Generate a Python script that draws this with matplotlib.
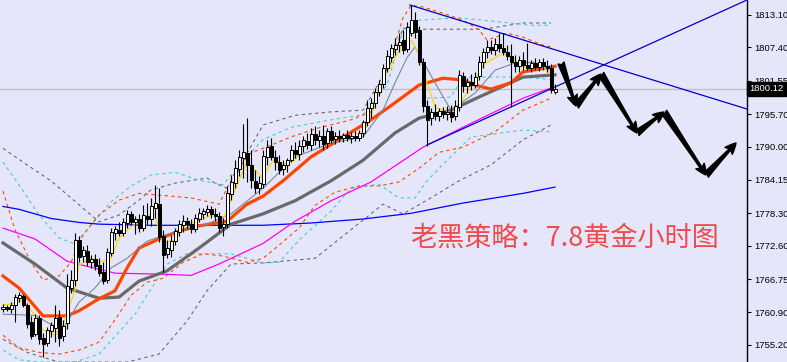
import matplotlib
matplotlib.use("Agg")
import matplotlib.pyplot as plt
import numpy as np

# hourly gold candles (price)
opens = [1761.5, 1761.8, 1761.5, 1762.2, 1763.4, 1763.8, 1762.2, 1759.2, 1757.1, 1759.9,
         1756.4, 1755.5, 1757.6, 1758.1, 1760.1, 1756.7, 1759.0, 1765.2, 1766.6, 1773.6,
         1770.8, 1771.7, 1769.7, 1770.2, 1769.2, 1768.0, 1766.6, 1771.3, 1774.8, 1775.4,
         1774.8, 1776.6, 1778.1, 1776.7, 1777.3, 1775.7, 1777.8, 1777.3, 1779.2, 1779.9,
         1774.3, 1771.1, 1771.8, 1773.4, 1775.0, 1776.2, 1776.9, 1776.4, 1775.5, 1777.3,
         1778.1, 1778.5, 1779.0, 1778.1, 1777.8, 1775.9, 1776.4, 1781.7, 1783.6, 1786.0,
         1788.0, 1788.9, 1786.7, 1784.0, 1782.7, 1783.4, 1788.2, 1790.1, 1788.2, 1787.3,
         1786.0, 1786.7, 1787.6, 1789.4, 1788.7, 1790.1, 1791.0, 1790.3, 1792.2, 1791.1,
         1791.8, 1790.6, 1792.7, 1791.3, 1791.8, 1791.5, 1792.0, 1791.5, 1791.8, 1791.5,
         1792.4, 1794.3, 1796.8, 1797.6, 1799.6, 1801.0, 1803.8, 1805.7, 1807.1, 1807.8,
         1808.7, 1807.1, 1809.9, 1812.2, 1810.5, 1804.8, 1797.1, 1795.0, 1796.1, 1795.4,
         1796.2, 1795.7, 1796.1, 1795.4, 1796.9, 1802.4, 1800.6, 1801.3, 1800.8, 1802.4,
         1804.8, 1806.6, 1807.5, 1807.0, 1808.0, 1807.3, 1806.6, 1805.9, 1804.8, 1804.1,
         1805.2, 1804.3, 1803.8, 1804.7, 1803.9, 1804.8, 1804.1, 1803.8, 1799.6]
highs = [1762.3, 1762.2, 1762.7, 1764.1, 1764.5, 1764.1, 1762.5, 1760.2, 1760.6, 1760.4,
         1757.3, 1758.3, 1759.2, 1762.2, 1761.3, 1759.5, 1767.6, 1768.3, 1774.8, 1774.3,
         1772.5, 1772.7, 1771.0, 1771.1, 1770.4, 1769.7, 1772.2, 1775.7, 1776.0, 1776.7,
         1777.4, 1778.9, 1778.7, 1777.8, 1778.1, 1779.7, 1780.1, 1781.0, 1783.3, 1782.7,
         1775.4, 1773.6, 1774.5, 1775.7, 1777.1, 1778.0, 1777.6, 1777.3, 1778.1, 1779.2,
         1779.2, 1779.7, 1779.5, 1779.2, 1778.5, 1777.4, 1783.1, 1785.0, 1787.6, 1789.4,
         1793.9, 1795.0, 1789.4, 1785.9, 1784.8, 1789.4, 1791.1, 1791.5, 1789.4, 1788.5,
         1787.6, 1788.0, 1790.3, 1790.8, 1791.1, 1791.8, 1792.4, 1793.2, 1793.6, 1792.9,
         1793.8, 1793.2, 1793.6, 1792.5, 1792.9, 1792.4, 1792.9, 1792.5, 1792.7, 1792.9,
         1794.6, 1798.2, 1798.5, 1800.3, 1801.7, 1804.5, 1807.0, 1808.0, 1809.1, 1809.9,
         1810.5, 1811.9, 1814.8, 1813.6, 1811.2, 1805.6, 1798.2, 1796.8, 1797.5, 1796.8,
         1796.9, 1797.1, 1797.3, 1798.2, 1803.4, 1803.1, 1802.0, 1802.7, 1803.1, 1805.9,
         1807.3, 1808.7, 1808.7, 1809.1, 1809.9, 1809.9, 1807.8, 1808.0, 1806.1, 1805.9,
         1806.6, 1808.2, 1805.2, 1805.6, 1805.4, 1805.6, 1805.2, 1804.5, 1801.0]
lows = [1760.9, 1761.1, 1760.8, 1759.2, 1762.7, 1761.8, 1758.1, 1756.2, 1756.7, 1755.3,
        1753.1, 1755.0, 1756.6, 1755.7, 1755.0, 1755.9, 1758.0, 1764.3, 1765.5, 1769.7,
        1769.7, 1769.0, 1768.7, 1768.3, 1767.3, 1765.9, 1766.0, 1770.8, 1773.6, 1774.3,
        1774.3, 1775.7, 1776.2, 1774.6, 1775.0, 1775.2, 1776.4, 1776.0, 1777.4, 1773.2,
        1768.0, 1770.4, 1770.6, 1772.7, 1774.3, 1775.0, 1775.5, 1774.8, 1775.0, 1776.7,
        1777.3, 1777.8, 1777.4, 1776.9, 1775.0, 1774.3, 1775.7, 1780.6, 1782.7, 1784.8,
        1784.5, 1783.8, 1782.7, 1781.8, 1781.7, 1782.7, 1786.7, 1787.6, 1785.9, 1785.2,
        1785.0, 1785.5, 1787.3, 1788.0, 1787.6, 1789.0, 1789.6, 1789.4, 1790.3, 1789.9,
        1789.4, 1789.7, 1790.6, 1790.4, 1790.8, 1790.8, 1791.0, 1790.6, 1791.0, 1791.0,
        1791.7, 1793.6, 1795.0, 1796.8, 1798.9, 1800.3, 1803.1, 1804.8, 1806.1, 1806.6,
        1806.3, 1806.6, 1809.4, 1809.1, 1804.3, 1796.1, 1790.1, 1793.8, 1794.6, 1794.5,
        1795.0, 1794.6, 1794.3, 1794.6, 1796.2, 1799.6, 1799.4, 1799.9, 1800.3, 1801.7,
        1803.8, 1805.6, 1806.3, 1806.1, 1806.6, 1806.1, 1805.2, 1796.9, 1803.1, 1803.1,
        1803.4, 1803.4, 1803.1, 1803.4, 1803.3, 1803.4, 1803.1, 1799.4, 1799.2]
closes = [1761.8, 1761.5, 1762.2, 1763.6, 1763.9, 1762.2, 1758.8, 1756.7, 1759.9, 1756.2,
          1755.3, 1757.8, 1758.7, 1759.9, 1756.4, 1758.5, 1765.5, 1766.6, 1773.6, 1770.6,
          1771.8, 1769.7, 1770.2, 1769.0, 1767.8, 1766.4, 1771.5, 1775.0, 1775.5, 1774.8,
          1776.7, 1778.1, 1776.7, 1777.3, 1775.7, 1778.0, 1777.3, 1779.5, 1780.1, 1774.1,
          1771.0, 1772.2, 1773.4, 1775.2, 1776.4, 1776.9, 1776.4, 1775.5, 1777.4, 1778.3,
          1778.7, 1779.0, 1778.1, 1777.8, 1775.7, 1776.4, 1781.8, 1783.8, 1786.2, 1788.2,
          1789.0, 1786.7, 1784.1, 1782.7, 1783.6, 1788.3, 1789.9, 1788.2, 1787.3, 1785.9,
          1786.7, 1787.6, 1789.4, 1788.7, 1790.1, 1791.1, 1790.3, 1792.2, 1791.1, 1791.8,
          1790.4, 1792.7, 1791.1, 1791.8, 1791.5, 1792.0, 1791.5, 1791.8, 1791.5, 1792.4,
          1794.3, 1796.8, 1797.6, 1799.6, 1801.0, 1803.8, 1805.9, 1807.3, 1807.8, 1808.4,
          1807.0, 1811.0, 1812.2, 1810.1, 1804.8, 1797.1, 1794.6, 1796.1, 1795.4, 1796.2,
          1795.7, 1796.1, 1795.2, 1797.1, 1802.6, 1800.6, 1801.3, 1800.8, 1802.2, 1804.8,
          1806.6, 1807.5, 1807.0, 1808.0, 1807.3, 1806.6, 1805.9, 1804.8, 1804.1, 1805.2,
          1804.3, 1803.8, 1804.7, 1803.9, 1804.8, 1804.1, 1803.8, 1799.9, 1800.12]

# indicator lines (bar index, price)
ma_fast_x = [0, 3, 5, 8, 10, 13, 15, 18, 19, 22, 24, 27, 29, 32, 34, 37, 38, 39, 40, 43, 45, 49,
             53, 55, 57, 59, 61, 63, 65, 66, 68, 70, 73, 75, 78, 83, 89, 91, 93, 95, 98, 100,
             102, 104, 106, 108, 112, 113, 116, 120, 122, 125, 128, 130, 135, 137]
ma_fast_y = [1762.2, 1762.5, 1763.1, 1760.4, 1757.8, 1756.9, 1758.7, 1764.8, 1769.2, 1770.4,
             1769.7, 1770.4, 1773.9, 1776.0, 1776.7, 1778.2, 1778.0, 1775.4, 1773.1, 1773.6,
             1776.0, 1777.1, 1778.2, 1777.1, 1780.6, 1784.1, 1787.3, 1785.9, 1784.5, 1785.9,
             1788.0, 1786.8, 1787.6, 1790.3, 1791.5, 1791.5, 1791.7, 1793.8, 1797.3, 1801.7,
             1805.6, 1807.8, 1808.7, 1806.4, 1801.2, 1796.9, 1795.9, 1796.4, 1799.4, 1804.3,
             1805.2, 1806.4, 1805.2, 1804.1, 1804.1, 1802.6]
ma_slow_x = [0, 8, 12, 15, 19, 23, 27, 31, 36, 41, 46, 51, 57, 65, 73, 82, 90, 95, 98, 101,
             103, 108, 112, 118, 123, 128, 133, 137]
ma_slow_y = [1760.6, 1760.4, 1758.8, 1758.0, 1762.7, 1765.2, 1768.7, 1770.4, 1773.4, 1774.6,
             1775.7, 1776.4, 1778.2, 1782.7, 1788.2, 1790.6, 1791.7, 1796.4, 1801.2, 1805.6,
             1807.5, 1801.2, 1796.4, 1799.4, 1803.4, 1804.7, 1804.8, 1803.4]
ma_red_x = [0, 4, 10, 16, 19, 24, 28, 31, 34, 39, 44, 49, 56, 61, 65, 70, 77, 84, 92, 98,
            104, 110, 115, 118, 122, 127, 130, 138]
ma_red_y = [1767.3, 1765.2, 1760.3, 1760.3, 1761.2, 1763.3, 1764.7, 1768.7, 1772.2, 1773.8,
            1775.2, 1776.1, 1776.9, 1779.9, 1781.3, 1784.0, 1788.2, 1791.2, 1794.7, 1797.7,
            1800.8, 1802.0, 1801.7, 1800.8, 1800.1, 1801.2, 1803.1, 1804.1]
ma_grey_x = [0, 8, 16, 24, 29, 34, 41, 49, 57, 65, 73, 82, 90, 98, 104, 112, 119, 130, 138]
ma_grey_y = [1773.1, 1769.4, 1765.2, 1763.4, 1763.6, 1766.4, 1768.2, 1772.2, 1776.4, 1778.2,
             1780.5, 1784.0, 1787.6, 1792.4, 1795.0, 1796.4, 1798.7, 1802.2, 1802.6]
ma_pink_x = [0, 8, 16, 21, 28, 41, 47, 54, 65, 73, 82, 92, 105, 115, 130, 137]
ma_pink_y = [1775.7, 1773.8, 1769.9, 1769.0, 1767.8, 1767.6, 1767.4, 1769.4, 1773.0, 1776.9,
             1780.5, 1783.8, 1789.9, 1793.4, 1798.5, 1800.3]
ma_blue_x = [0, 4, 12, 19, 24, 37, 49, 65, 77, 90, 102, 115, 130, 138]
ma_blue_y = [1779.5, 1779.0, 1777.4, 1776.7, 1776.4, 1776.2, 1776.2, 1776.2, 1776.6, 1777.3,
             1778.3, 1780.1, 1781.8, 1782.9]

# bollinger-style envelopes (dashed)
bb_red_up_x = [0, 3, 7, 10, 14, 17, 20, 24, 29, 34, 39, 47, 54, 58, 62, 65, 72, 79, 87, 92,
               96, 100, 102, 105, 110, 115, 119, 121, 126, 130, 135, 137]
bb_red_up_y = [1782.2, 1775.4, 1769.7, 1766.6, 1767.3, 1769.7, 1774.5, 1778.0, 1780.6, 1781.8,
               1781.5, 1781.0, 1779.9, 1785.5, 1788.9, 1789.7, 1791.7, 1793.3, 1794.7, 1796.1,
               1803.4, 1812.6, 1814.8, 1814.5, 1813.4, 1812.2, 1810.5, 1808.7, 1809.9, 1809.2,
               1807.8, 1807.5]
bb_red_lo_x = [0, 4, 9, 14, 19, 24, 28, 32, 36, 40, 45, 50, 55, 61, 65, 69, 74, 78, 83, 89,
               94, 99, 104, 109, 115, 123, 130, 137]
bb_red_lo_y = [1756.9, 1754.7, 1753.9, 1753.6, 1754.3, 1755.7, 1759.6, 1763.9, 1766.2, 1766.9,
               1769.7, 1771.2, 1770.8, 1769.7, 1770.4, 1772.7, 1775.7, 1779.7, 1782.0, 1783.1,
               1783.1, 1783.8, 1786.2, 1789.0, 1789.9, 1792.6, 1796.4, 1798.5]
bb_cyan_up_x = [0, 4, 9, 14, 18, 22, 27, 32, 37, 43, 49, 55, 59, 65, 72, 82, 90, 96, 100, 104,
                114, 124, 132, 137]
bb_cyan_up_y = [1787.3, 1783.3, 1778.0, 1774.0, 1772.9, 1776.2, 1780.3, 1783.1, 1785.0, 1785.5,
                1784.1, 1783.3, 1786.8, 1791.2, 1793.4, 1794.7, 1795.6, 1800.8, 1810.5, 1812.2,
                1812.6, 1811.9, 1811.3, 1811.3]
bb_cyan_lo_x = [0, 4, 9, 18, 24, 33, 41, 46, 52, 57, 65, 69, 74, 82, 87, 94, 99, 103, 106,
                111, 117, 130, 137]
bb_cyan_lo_y = [1754.3, 1752.6, 1752.2, 1752.2, 1753.6, 1760.6, 1769.4, 1771.2, 1771.2, 1771.2,
                1769.6, 1769.7, 1773.6, 1778.7, 1782.7, 1783.4, 1781.0, 1781.0, 1784.0, 1787.6,
                1791.7, 1792.9, 1792.6]
bb_cyan_mid_x = [106, 112, 115, 130, 138]
bb_cyan_mid_y = [1798.5, 1798.7, 1802.2, 1802.2, 1801.7]
bb_grey_up_x = [0, 6, 12, 20, 24, 29, 34, 37, 43, 51, 53, 57, 60, 65, 73, 82, 90, 97, 100,
                105, 120, 130, 137]
bb_grey_up_y = [1789.7, 1786.8, 1784.0, 1779.2, 1776.8, 1778.0, 1780.6, 1782.4, 1783.6, 1784.5,
                1783.6, 1782.4, 1787.6, 1793.8, 1795.5, 1796.1, 1796.4, 1804.8, 1810.8, 1810.6,
                1810.6, 1811.7, 1811.7]
bb_grey_lo_x = [0, 6, 14, 31, 39, 46, 51, 57, 65, 78, 95, 100, 106, 114, 122, 130, 137]
bb_grey_lo_y = [1756.2, 1753.9, 1752.2, 1752.2, 1753.6, 1759.4, 1764.7, 1769.4, 1769.6, 1770.4,
                1779.9, 1778.2, 1780.6, 1784.0, 1786.8, 1791.2, 1793.8]

# hand-drawn trend lines and forecast arrows
trend_down_x = [101.75, 186]
trend_down_y = [1814.85, 1796.6]
trend_up_x = [106, 186]
trend_up_y = [1790.29, 1815.73]
arrow_x = [139.5, 143.25, 149.5, 158.5, 165.25, 175.75, 183.25]
arrow_y = [1804.68, 1797.13, 1802.74, 1792.39, 1796.08, 1785.02, 1790.64]

last_price = 1800.12
tick_vals = [1813.10, 1807.40, 1801.55, 1795.70, 1790.00, 1784.15, 1778.30,
             1772.60, 1766.75, 1760.90, 1755.20]
title = "老黑策略：7.8黄金小时图"

bg = "#E6E6FA"
fig = plt.figure(figsize=(7.87, 3.62), dpi=100, facecolor=bg)
ax = fig.add_axes([0, 0, 747 / 787, 1], facecolor=bg)

# dashed envelopes
dash = (3, 3)
ax.plot(bb_grey_up_x, bb_grey_up_y, color="#696969", lw=0.8, dashes=dash, zorder=2)
ax.plot(bb_grey_lo_x, bb_grey_lo_y, color="#696969", lw=0.8, dashes=dash, zorder=2)
ax.plot(bb_cyan_up_x, bb_cyan_up_y, color="#40D0D0", lw=0.8, dashes=dash, zorder=2)
ax.plot(bb_cyan_lo_x, bb_cyan_lo_y, color="#40D0D0", lw=0.8, dashes=dash, zorder=2)
ax.plot(bb_cyan_mid_x, bb_cyan_mid_y, color="#40D0D0", lw=0.8, dashes=dash, zorder=2)
ax.plot(bb_red_up_x, bb_red_up_y, color="#FF4500", lw=0.8, dashes=dash, zorder=2)
ax.plot(bb_red_lo_x, bb_red_lo_y, color="#FF4500", lw=0.8, dashes=dash, zorder=2)

ax.axhline(last_price, color="#C0C0C0", lw=1.0, zorder=1)

# moving averages
ax.plot(ma_blue_x, ma_blue_y, color="#0000FF", lw=0.9, zorder=3)
ax.plot(ma_pink_x, ma_pink_y, color="#FF00FF", lw=0.9, zorder=3)
ax.plot(ma_grey_x, ma_grey_y, color="#696969", lw=2.3, zorder=3)
ax.plot(ma_red_x, ma_red_y, color="#FF4500", lw=2.3, zorder=3)
ax.plot(ma_slow_x, ma_slow_y, color="#778899", lw=0.8, zorder=3)
ax.plot(ma_fast_x, ma_fast_y, color="#FFD700", lw=0.9, zorder=3)

# candles
o = np.array(opens)
h = np.array(highs)
l = np.array(lows)
c = np.array(closes)
idx = np.arange(len(c))
up = c >= o
ax.vlines(idx, l, h, color="black", lw=0.8, zorder=5)
lo = np.minimum(o, c)
hh = np.maximum(np.abs(c - o), 0.12)
ax.bar(idx[up], hh[up], bottom=lo[up], width=0.75, color="white",
       edgecolor="black", lw=0.7, zorder=6)
ax.bar(idx[~up], hh[~up], bottom=lo[~up], width=0.75, color="black",
       edgecolor="black", lw=0.7, zorder=6)

# trend lines
ax.plot(trend_down_x, trend_down_y, color="#0000CD", lw=0.9, zorder=4)
ax.plot(trend_up_x, trend_up_y, color="#0000CD", lw=0.9, zorder=4)

# forecast arrows
for k in range(len(arrow_x) - 1):
    ax.annotate("", xy=(arrow_x[k + 1], arrow_y[k + 1]), xytext=(arrow_x[k], arrow_y[k]),
                arrowprops=dict(arrowstyle="fancy,head_length=0.6,head_width=0.55,tail_width=0.35",
                                color="black", shrinkA=0, shrinkB=0, mutation_scale=13),
                zorder=7)

ax.text(410 / 747, 1 - 238 / 362, title, transform=ax.transAxes, ha="left", va="center",
        fontsize=19.5, color="#F04A4C", family=["Noto Sans CJK SC", "DejaVu Sans"])

ax.set_xlim(-0.75, 186)
ax.set_ylim(1752.21, 1815.73)

for s in ["left", "top", "bottom"]:
    ax.spines[s].set_visible(False)
ax.spines["right"].set_color("black")
ax.spines["right"].set_linewidth(1.0)
ax.set_xticks([])
ax.yaxis.tick_right()
ax.set_yticks(tick_vals)
ax.set_yticklabels(["%.2f" % v for v in tick_vals], fontsize=6.8, family="Liberation Sans")
ax.tick_params(axis="y", length=3, width=0.8, pad=2, colors="black")

ax.text(1.003, last_price, "%.2f" % last_price, transform=ax.get_yaxis_transform(),
        ha="left", va="center", fontsize=6.8, family="Liberation Sans", color="white",
        bbox=dict(boxstyle="square,pad=0.25", facecolor="black", edgecolor="black"),
        clip_on=False, zorder=10)

fig.savefig("out.png", dpi=100, facecolor=bg)
